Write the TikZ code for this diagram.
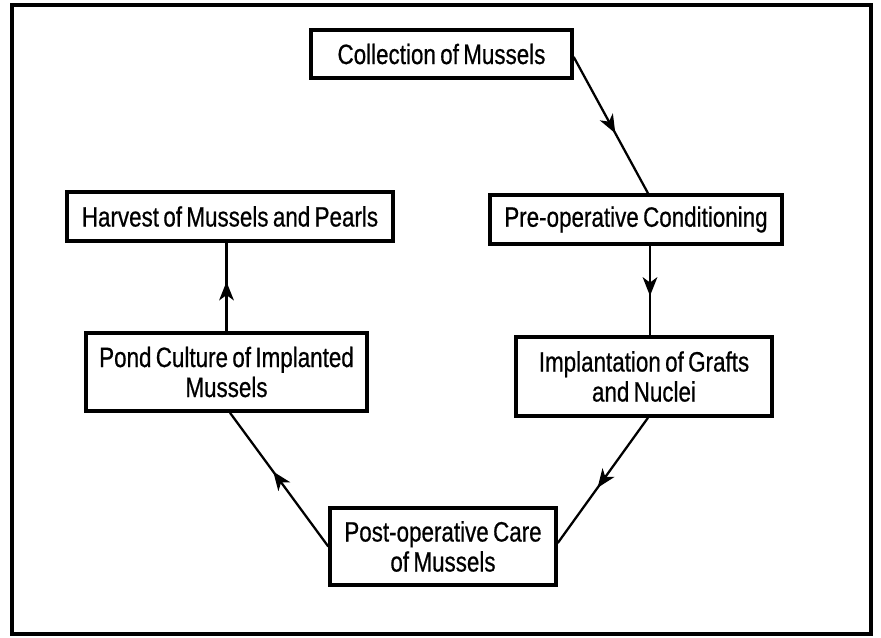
\documentclass[tikz,border=0pt]{standalone}
\usepackage{fontspec}
\newfontfamily\boxfont[FakeStretch=0.8,FakeBold=0.6,WordSpace=0.7]{Liberation Sans}
\usetikzlibrary{arrows.meta,decorations.markings}
\tikzset{
  stepbox/.style={draw, line width=2.6pt, inner sep=0pt, align=center,
    font=\boxfont\fontsize{21}{22.5}\selectfont},
  flow/.style={line width=1.7pt, postaction={decorate},
    decoration={markings, mark=at position 0.56 with {\arrow{Stealth[length=14pt,width=11pt,inset=4pt]}}}},
  frame/.style={line width=2.8pt}
}
\begin{document}
\begin{tikzpicture}[x=0.75pt,y=-0.75pt]
\useasboundingbox (0,0) rectangle (881,637);
\draw[frame] (12,5) rectangle (871,634);
\node[stepbox, minimum width=195.75pt, minimum height=36pt] (coll) at (441.5,54) {Collection of Mussels};
\node[stepbox, minimum width=219pt, minimum height=36.75pt] (pre) at (636,219.5) {Pre-operative Conditioning};
\node[stepbox, minimum width=244.5pt, minimum height=36.75pt] (harv) at (230,216.5) {Harvest of Mussels and Pearls};
\node[stepbox, minimum width=210.75pt, minimum height=58.5pt] (pond) at (226.5,372) {Pond Culture of Implanted\\Mussels};
\node[stepbox, minimum width=192pt, minimum height=59.25pt] (impl) at (644,376.5) {Implantation of Grafts\\and Nuclei};
\node[stepbox, minimum width=169.5pt, minimum height=57.75pt] (post) at (443,546.5) {Post-operative Care\\of Mussels};
\draw[flow] ([yshift=-2.25pt]coll.east) -- ([xshift=9pt]pre.north);
\draw[flow] ([xshift=10.5pt]pre.south) -- ([xshift=4.5pt]impl.north);
\draw[flow] ([xshift=3pt]impl.south) -- ([yshift=2.6pt]post.east);
\draw[flow] (post.west) -- ([xshift=2.6pt]pond.south);
\draw[flow] (pond.north) -- (harv.south -| pond.north);
\end{tikzpicture}
\end{document}
